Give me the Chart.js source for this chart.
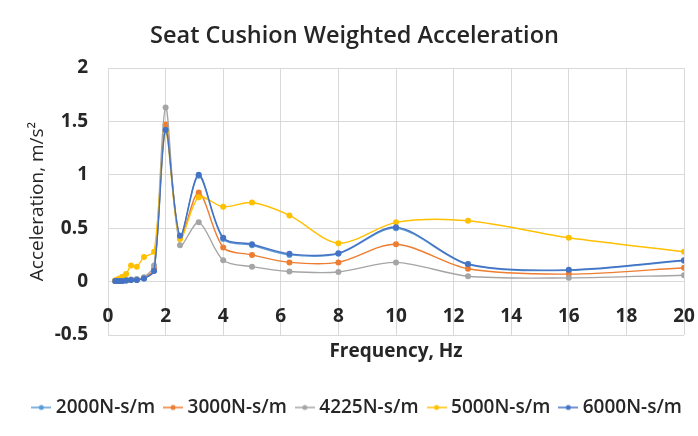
<!DOCTYPE html>
<html>
<head>
<meta charset="utf-8">
<script src="https://cdn.jsdelivr.net/npm/chart.js@4/dist/chart.umd.min.js"></script>
<style>
  html, body { margin: 0; padding: 0; background: #fff; }
  #wrap { width: 698px; height: 436px; }
</style>
</head>
<body>
<div id="wrap"><canvas id="chart" width="698" height="436"></canvas></div>
<script>
// frequencies, Hz (1/3 octave bands)
const freqs = [0.25, 0.315, 0.4, 0.5, 0.63, 0.8, 1, 1.25, 1.6, 2, 2.5, 3.15, 4, 5, 6.3, 8, 10, 12.5, 16, 20];

const seriesNames = ["2000N-s/m", "3000N-s/m", "4225N-s/m", "5000N-s/m", "6000N-s/m"];
const seriesColors = ["#5b9bd5", "#ed7d31", "#a5a5a5", "#ffc000", "#4472c4"];

const acc2000 = [0.005, 0.005, 0.005, 0.006, 0.01, 0.015, 0.016, 0.03, 0.11, 1.45, 0.42, 0.99, 0.40, 0.34, 0.25, 0.26, 0.50, 0.16, 0.105, 0.195];
const acc3000 = [0.005, 0.005, 0.006, 0.008, 0.012, 0.018, 0.02, 0.035, 0.12, 1.47, 0.41, 0.835, 0.32, 0.25, 0.18, 0.18, 0.35, 0.12, 0.07, 0.13];
const acc4225 = [0.005, 0.005, 0.007, 0.01, 0.015, 0.02, 0.025, 0.04, 0.15, 1.63, 0.34, 0.555, 0.20, 0.14, 0.095, 0.09, 0.18, 0.05, 0.035, 0.06];
const acc5000 = [0.01, 0.02, 0.03, 0.045, 0.07, 0.15, 0.14, 0.23, 0.28, 1.40, 0.40, 0.79, 0.70, 0.74, 0.62, 0.36, 0.555, 0.57, 0.41, 0.28];
const acc6000 = [0.005, 0.005, 0.005, 0.005, 0.01, 0.015, 0.015, 0.03, 0.10, 1.42, 0.43, 1.0, 0.41, 0.35, 0.26, 0.265, 0.51, 0.165, 0.11, 0.20];

const allSeries = [acc2000, acc3000, acc4225, acc5000, acc6000];

// little line + dot for the legend, like Excel
const legendIcon = (color) => {
  const c = document.createElement("canvas");
  c.width = 20;
  c.height = 8;
  const ctx = c.getContext("2d");
  ctx.strokeStyle = color;
  ctx.lineWidth = 1.5;
  ctx.beginPath();
  ctx.moveTo(0, 4);
  ctx.lineTo(20, 4);
  ctx.stroke();
  ctx.fillStyle = color;
  ctx.beginPath();
  ctx.arc(10, 4, 2.5, 0, Math.PI * 2);
  ctx.fill();
  return c;
};

const datasets = allSeries.map((vals, i) => ({
  label: seriesNames[i],
  data: vals.map((v, j) => ({ x: freqs[j], y: v })),
  borderColor: seriesColors[i],
  backgroundColor: seriesColors[i],
  borderWidth: 1.4,
  pointRadius: 3,
  pointBorderWidth: 0,
  tension: 0.3,
  order: allSeries.length - i, // last series drawn on top, as in Excel
  icon: legendIcon(seriesColors[i]),
}));

const ink = "#262626";
const tickFont = { family: "'Open Sans'", size: 19, weight: "bold" };

// don't let the "20" label push the plot in from the right
const noSidePadding = (s) => {
  s.paddingLeft = 0;
  s.paddingRight = 0;
};

new Chart(document.querySelector("#chart"), {
  type: "line",
  data: { datasets },
  options: {
    responsive: false,
    animation: false,
    layout: { padding: { left: 14, right: 3, top: 0, bottom: 9 } },
    plugins: {
      title: {
        display: true,
        text: "Seat Cushion Weighted Acceleration",
        color: ink,
        font: { family: "'Open Sans'", size: 23.5, weight: "600" },
        padding: { top: 22.4, bottom: 17.4 },
      },
      legend: {
        position: "bottom",
        align: "end",
        labels: {
          usePointStyle: true,
          pointStyleWidth: 10,
          color: ink,
          font: { family: "'Open Sans'", size: 19, weight: "600" },
          padding: 13,
          sort: (a, b) => a.datasetIndex - b.datasetIndex,
          generateLabels: (chart) =>
            chart.data.datasets.map((ds, i) => ({
              text: ds.label,
              fillStyle: ds.borderColor,
              strokeStyle: ds.borderColor,
              fontColor: ink,
              pointStyle: ds.icon,
              lineWidth: 0,
              datasetIndex: i,
            })),
        },
      },
      tooltip: { enabled: false },
    },
    scales: {
      x: {
        type: "linear",
        position: { y: 0 },
        min: 0,
        max: 20,
        ticks: { stepSize: 2, color: ink, font: tickFont, padding: 24 },
        grid: { color: "#d9d9d9", drawTicks: false },
        border: { display: false },
        afterFit: noSidePadding,
      },
      x2: {
        type: "linear",
        axis: "x",
        position: "bottom",
        min: 0,
        max: 20,
        ticks: { display: false },
        grid: { display: false },
        border: { display: false },
        title: {
          display: true,
          text: "Frequency, Hz",
          color: ink,
          font: { family: "'Open Sans'", size: 19, weight: "bold" },
          padding: { top: 0, bottom: 21.6 },
        },
        afterFit: (s) => {
          noSidePadding(s);
          s.height = 50;
        },
      },
      y: {
        min: -0.5,
        max: 2,
        ticks: {
          stepSize: 0.5,
          color: ink,
          font: tickFont,
          padding: 20,
          callback: (v) => String(v),
        },
        grid: { color: "#d9d9d9", drawTicks: false },
        border: { display: false },
        title: {
          display: true,
          text: "Acceleration, m/s²",
          color: ink,
          font: { family: "'Open Sans'", size: 19 },
          padding: { top: 12, bottom: 0 },
        },
        afterFit: (s) => { s.width = 94; },
      },
      y2: {
        type: "linear",
        axis: "y",
        position: "right",
        min: 0,
        max: 1,
        ticks: { display: false },
        grid: { display: false },
        border: { display: false },
        afterFit: (s) => { s.width = 11; },
      },
    },
  },
});
</script>
</body>
</html>
